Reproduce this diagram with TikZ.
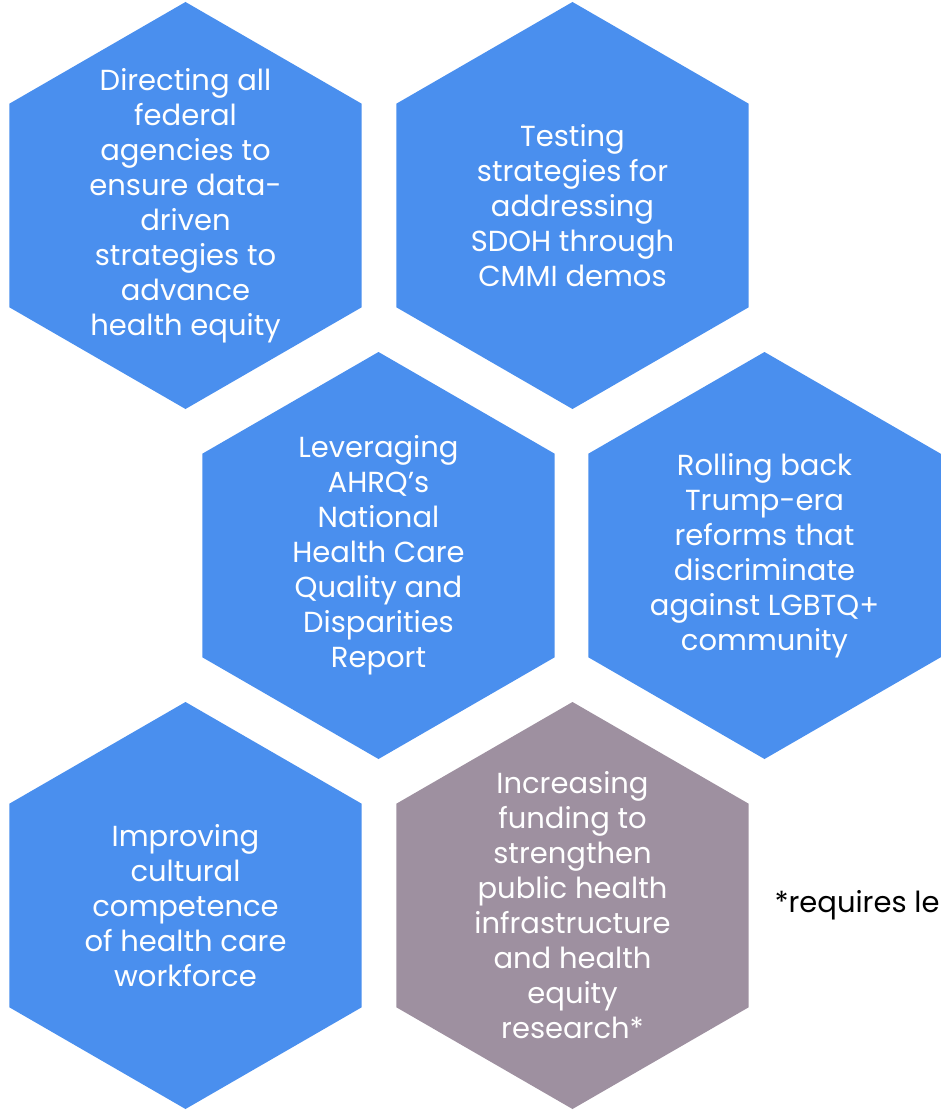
\documentclass[tikz,border=0pt]{standalone}
\usepackage{fontspec}
\setmainfont{Poppins}
\usetikzlibrary{shapes.geometric,positioning}
\definecolor{hexblue}{RGB}{74,143,238}
\definecolor{hexgrey}{RGB}{158,144,160}
\begin{document}
\begin{tikzpicture}[x=1pt,y=-1pt,
hexa/.style={
% The shape:
regular polygon,
regular polygon sides=6,
shape border rotate=30,
minimum size=407pt,
inner sep=0pt,
fill=hexblue
},
hextext/.style={
text=white,
align=center,
inner sep=0pt,
font=\fontsize{29}{35}\selectfont
},
note/.style={
anchor=west,
font=\fontsize{29}{35}\selectfont
}
]
\useasboundingbox (0,0) rectangle (942,1110);
% First row:
\node (directing) [hexa] at (185.5,205.5) {};
\node (testing) [hexa] at (572.5,205.5) {};
% Second row:
\node (leveraging) [hexa] at (378.5,555.5) {};
\node (rolling) [hexa] at (764.5,555.5) {};
% Third row:
\node (improving) [hexa] at (185.5,905.5) {};
\node (funding) [hexa,fill=hexgrey] at (572.5,905.5) {};
% Texts:
\node (directing text) [hextext] at (directing) {Directing all\\federal\\agencies to\\ensure data-\\driven\\strategies to\\advance\\health equity};
\node (testing text) [hextext] at (testing) {Testing\\strategies for\\addressing\\SDOH through\\CMMI demos};
\node (leveraging text) [hextext] at (leveraging) {Leveraging\\AHRQ’s\\National\\Health Care\\Quality and\\Disparities\\Report};
\node (rolling text) [hextext] at (rolling) {Rolling back\\Trump-era\\reforms that\\discriminate\\against LGBTQ+\\community};
\node (improving text) [hextext] at (improving) {Improving\\cultural\\competence\\of health care\\workforce};
\node (funding text) [hextext] at (funding) {Increasing\\funding to\\strengthen\\public health\\infrastructure\\and health\\equity\\research*};
\node (requires) [note] at (771,905.5) {*requires le};
\end{tikzpicture}
\end{document}
